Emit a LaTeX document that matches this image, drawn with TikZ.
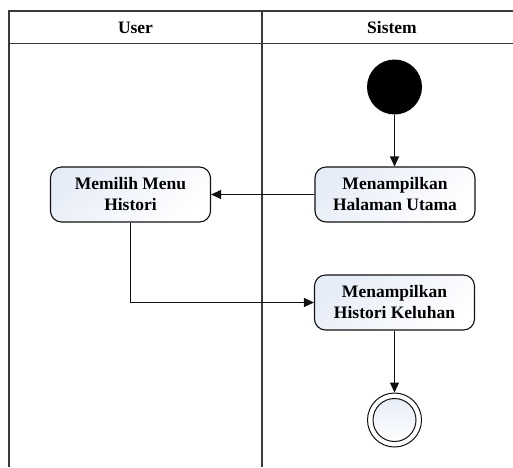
\documentclass[tikz,border=0pt]{standalone}
\usepackage{fontspec}
\setmainfont{Liberation Serif}
\usetikzlibrary{arrows.meta,positioning}
\definecolor{lanecol}{HTML}{3A3A3A}
\definecolor{boxtint}{HTML}{E6ECF7}
\definecolor{linecol}{HTML}{111111}
\tikzset{
  lane/.style={draw=lanecol, line width=1.3pt},
  header/.style={font=\fontsize{17.5}{20}\selectfont\bfseries, inner sep=0pt},
  action/.style={draw=linecol, line width=1.1pt, rounded corners=11pt,
    top color=boxtint, bottom color=white, shading angle=40,
    minimum width=160pt, minimum height=55pt, align=center, inner sep=2pt,
    font=\fontsize{17.5}{21}\selectfont\bfseries},
  initial/.style={circle, fill=black, minimum size=55pt, inner sep=0pt},
  final/.style={circle, draw=linecol, line width=1pt, fill=white, minimum size=54pt, inner sep=0pt},
  finalin/.style={circle, draw=linecol, line width=1pt, top color=boxtint, bottom color=white,
    minimum size=43pt, inner sep=0pt},
  flow/.style={draw=linecol, line width=1.1pt, -{Triangle[length=10pt,width=9pt]}},
}
\begin{document}
\begin{tikzpicture}[x=1pt, y=-1pt]
  \useasboundingbox (0,0) rectangle (513,467);
  % swimlane frame
  \draw[lane] (9,467) -- (9,11) -- (513,11);
  \draw[lane] (9,43.5) -- (513,43.5);
  \draw[lane] (262,11) -- (262,467);
  \node[header] (huser) at (135.5,27.5) {User};
  \node[header] (hsys) at (392,27.5) {Sistem};
  % activities
  \node[initial] (start) at (394.5,87) {};
  \node[action] (utama) at (395,194.5) {Menampilkan\\Halaman Utama};
  \node[action] (menu) at (130.5,194.5) {Memilih Menu\\Histori};
  \node[action] (keluhan) at (394.5,302.5) {Menampilkan\\Histori Keluhan};
  \node[final] (end) at (394.5,420) {};
  \node[finalin] (endin) at (end.center) {};
  % transitions
  \draw[flow] (start.south) -- (utama.north -| start.south);
  \draw[flow] (utama.west) -- (menu.east);
  \draw[flow] (menu.south) |- (keluhan.west);
  \draw[flow] (keluhan.south -| end.north) -- (end.north);
\end{tikzpicture}
\end{document}
